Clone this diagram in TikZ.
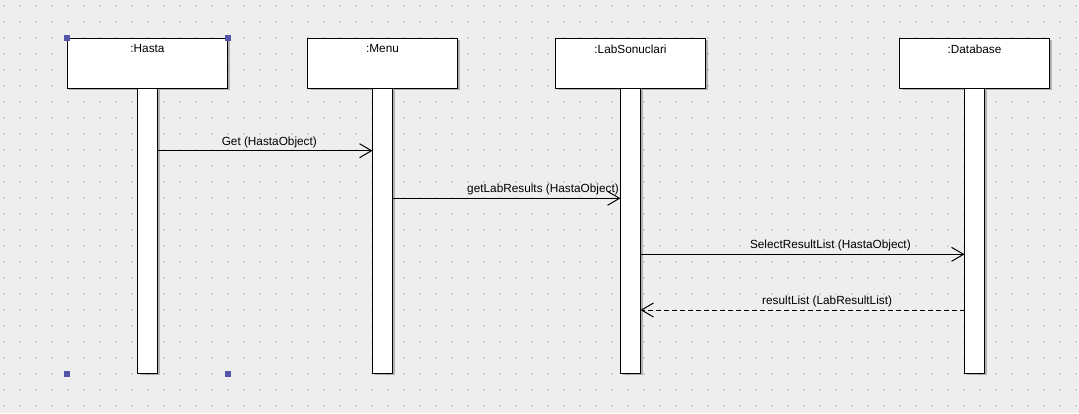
\documentclass[tikz,border=0pt]{standalone}
\usepackage{fontspec}
\setmainfont{Liberation Sans}
\usetikzlibrary{arrows.meta,positioning,shadows}
\definecolor{bgcol}{RGB}{238,238,238}
\definecolor{dotcol}{RGB}{210,210,210}
\definecolor{handlecol}{RGB}{85,85,170}

\begin{document}
\begin{tikzpicture}[x=1bp,y=-1bp,line width=1bp,font=\fontsize{11.8bp}{13bp}\selectfont,
  shade/.style={drop shadow={shadow xshift=2bp,shadow yshift=-2bp,fill=black,opacity=0.25}},
  objbox/.style={draw,fill=white,shade,minimum width=#1,minimum height=50bp,inner sep=0pt,outer sep=0pt},
  objname/.style={anchor=north,inner sep=0pt,yshift=-6bp},
  lifeline/.style={draw,fill=white,shade,minimum width=20bp,minimum height=285bp,inner sep=0pt,outer sep=0pt,below=0pt of #1},
  msg/.style={-{Straight Barb[length=12bp,width=14bp]}},
  reply/.style={msg,dash pattern=on 5bp off 3bp},
  msgtext/.style={anchor=base,inner sep=0pt,yshift=5.5bp}]
\fill[bgcol] (0,0) rectangle (1079,413);
\useasboundingbox (0,0) rectangle (1079,413);
\foreach \x in {4,20,...,1076} {
  \foreach \y in {6,22,...,406} {
    \fill[dotcol] (\x-1,\y-1) rectangle +(2,2);
  }
}
\foreach \n/\x/\w/\t in {hasta/147.5/160bp/Hasta,menu/382.5/150bp/Menu,lab/630.5/150bp/LabSonuclari,db/974.5/150bp/Database} {
  \node[objbox=\w] (\n) at (\x,63.3) {};
  \node[objname] (\n T) at (\n.north) {:\t};
  \node[lifeline=\n] (\n L) {};
}
\draw[msg] (hastaL.east |- 0,150.7) -- node[msgtext,pos=.52] {Get (HastaObject)} (menuL.west |- 0,150.7);
\draw[msg] (menuL.east |- 0,198.3) -- node[msgtext,pos=.66] {getLabResults (HastaObject)} (labL.west |- 0,198.3);
\draw[msg] (labL.east |- 0,254.3) -- node[msgtext,pos=.586] {SelectResultList (HastaObject)} (dbL.west |- 0,254.3);
\draw[reply] (dbL.west |- 0,310) -- node[msgtext,pos=.424] {resultList (LabResultList)} (labL.east |- 0,310);
\foreach \p in {hasta.north west,hasta.north east} {
  \fill[handlecol] (\p) +(-3,-3) rectangle +(3,3);
  \fill[handlecol] (\p |- hastaL.south) +(-3,-2.3) rectangle +(3,3.7);
}
\end{tikzpicture}
\end{document}
